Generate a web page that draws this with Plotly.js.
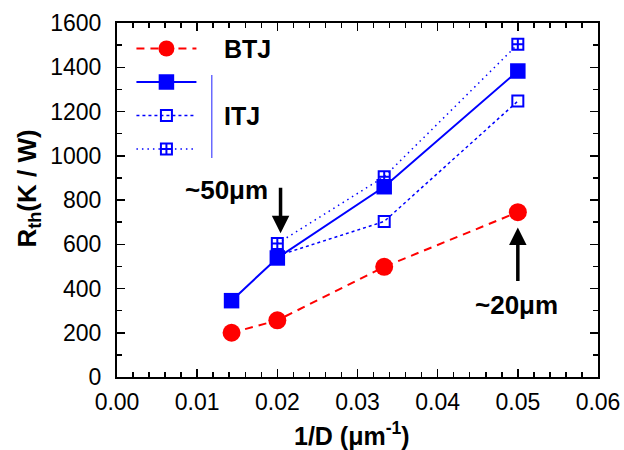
<!DOCTYPE html>
<html><head><meta charset="utf-8">
<script src="https://cdn.plot.ly/plotly-3.0.1.min.js"></script>
<style>html,body{margin:0;padding:0;background:#fff}#c{width:624px;height:450px}</style>
</head><body><div id="c"></div>
<script>
const btjX = [0.01429, 0.02, 0.03333, 0.05];
const btjY = [200, 256, 498, 745];
const itjX = [0.01429, 0.02, 0.03333, 0.05];
const itjY = [345, 538, 860, 1383];
const itjOpenX = [0.02, 0.03333, 0.05];
const itjOpenY = [548, 703, 1247];
const itjGridX = [0.02, 0.03333, 0.05];
const itjGridY = [603, 905, 1504];
const xTickVals = [0, 0.01, 0.02, 0.03, 0.04, 0.05, 0.06];
const yTickVals = [0, 200, 400, 600, 800, 1000, 1200, 1400, 1600];

const FONT = 'Arial, "Liberation Sans", sans-serif';
const data = [
  {x: btjX, y: btjY, mode: 'lines+markers', name: ' ', legendgroup: 'a',
   line: {color: '#ff0000', width: 2, dash: '8px,6px'},
   marker: {symbol: 'circle', size: 18, color: '#ff0000'}},
  {x: itjX, y: itjY, mode: 'lines+markers', name: ' ', legendgroup: 'b',
   line: {color: '#0000ff', width: 2},
   marker: {symbol: 'square', size: 15.5, color: '#0000ff'}},
  {x: itjOpenX, y: itjOpenY, mode: 'lines+markers', name: ' ', legendgroup: 'c',
   line: {color: '#0000ff', width: 1.5, dash: '3px,3px'},
   marker: {symbol: 'square-open', size: 11, color: '#0000ff', line: {width: 2, color: '#0000ff'}}},
  {x: itjGridX, y: itjGridY, mode: 'lines+markers', name: ' ', legendgroup: 'd',
   line: {color: '#0000ff', width: 1.5, dash: '1.5px,4px'},
   marker: {symbol: 'square-cross-open', size: 11, color: '#0000ff', line: {width: 2, color: '#0000ff'}}}
];

const axisCommon = {
  showline: true, linecolor: '#000', linewidth: 2, mirror: 'ticks',
  ticks: 'inside', ticklen: 8, tickwidth: 1.5, tickcolor: '#000',
  showgrid: false, zeroline: false,
  tickfont: {family: FONT, size: 23, color: '#000'}
};

const layout = {
  width: 624, height: 450,
  margin: {l: 116.5, r: 26, t: 23, b: 73},
  paper_bgcolor: '#fff', plot_bgcolor: '#fff',
  showlegend: true,
  legend: {x: 0.03, y: 0.983, xanchor: 'left', yanchor: 'top', bgcolor: 'rgba(0,0,0,0)',
           font: {family: FONT, size: 20}, tracegroupgap: 4.5, itemwidth: 60},
  xaxis: Object.assign({}, axisCommon, {
    range: [0, 0.06], tickvals: xTickVals, tickformat: '.2f', ticklabelstandoff: 3,
    minor: {dtick: 0.002, ticks: 'inside', ticklen: 5, tickwidth: 1.5, tickcolor: '#000'}
  }),
  yaxis: Object.assign({}, axisCommon, {
    range: [0, 1600], tickvals: yTickVals, ticklabelstandoff: 9,
    minor: {dtick: 100, ticks: 'inside', ticklen: 5, tickwidth: 1.5, tickcolor: '#000'}
  }),
  shapes: [
    {type: 'line', xref: 'paper', yref: 'paper', x0: 0.197, x1: 0.197, y0: (377 - 75) / 354, y1: (377 - 158) / 354,
     line: {color: '#6a6aff', width: 1.5}}
  ],
  annotations: [
    {xref: 'paper', yref: 'paper', x: (352 - 116.5) / 481.5, y: (377 - 434) / 354, xanchor: 'center', yanchor: 'middle',
     text: '<b>1/D (μm<sup>-1</sup>)</b>', showarrow: false, font: {family: FONT, size: 25, color: '#000'}},
    {xref: 'paper', yref: 'paper', x: (27 - 116.5) / 481.5, y: (377 - 189) / 354, xanchor: 'center', yanchor: 'middle',
     textangle: -90, text: '<b>R<sub>th</sub>(K / W)</b>', showarrow: false, font: {family: FONT, size: 26, color: '#000'}},
    {xref: 'paper', yref: 'paper', x: 0.218, y: (377 - 49) / 354, xanchor: 'left', yanchor: 'middle',
     text: '<b>BTJ</b>', showarrow: false, font: {family: FONT, size: 25, color: '#000'}},
    {xref: 'paper', yref: 'paper', x: 0.218, y: (377 - 116) / 354, xanchor: 'left', yanchor: 'middle',
     text: '<b>ITJ</b>', showarrow: false, font: {family: FONT, size: 25, color: '#000'}},
    {x: 0.01364, y: 843, xanchor: 'center', yanchor: 'middle', text: '<b>~50μm</b>', showarrow: false,
     font: {family: FONT, size: 26, color: '#000'}},
    {x: 0.04988, y: 327, xanchor: 'center', yanchor: 'middle', text: '<b>~20μm</b>', showarrow: false,
     font: {family: FONT, size: 26, color: '#000'}},
    {x: 0.0204, y: 650, ax: 0.0204, ay: 862, axref: 'x', ayref: 'y', text: '', showarrow: true,
     arrowhead: 2, arrowsize: 1, arrowwidth: 3.5, arrowcolor: '#000'},
    {x: 0.05, y: 676, ax: 0.05, ay: 427, axref: 'x', ayref: 'y', text: '', showarrow: true,
     arrowhead: 2, arrowsize: 1, arrowwidth: 3.5, arrowcolor: '#000'}
  ]
};
Plotly.newPlot('c', data, layout, {displayModeBar: false, staticPlot: true});
</script></body></html>
